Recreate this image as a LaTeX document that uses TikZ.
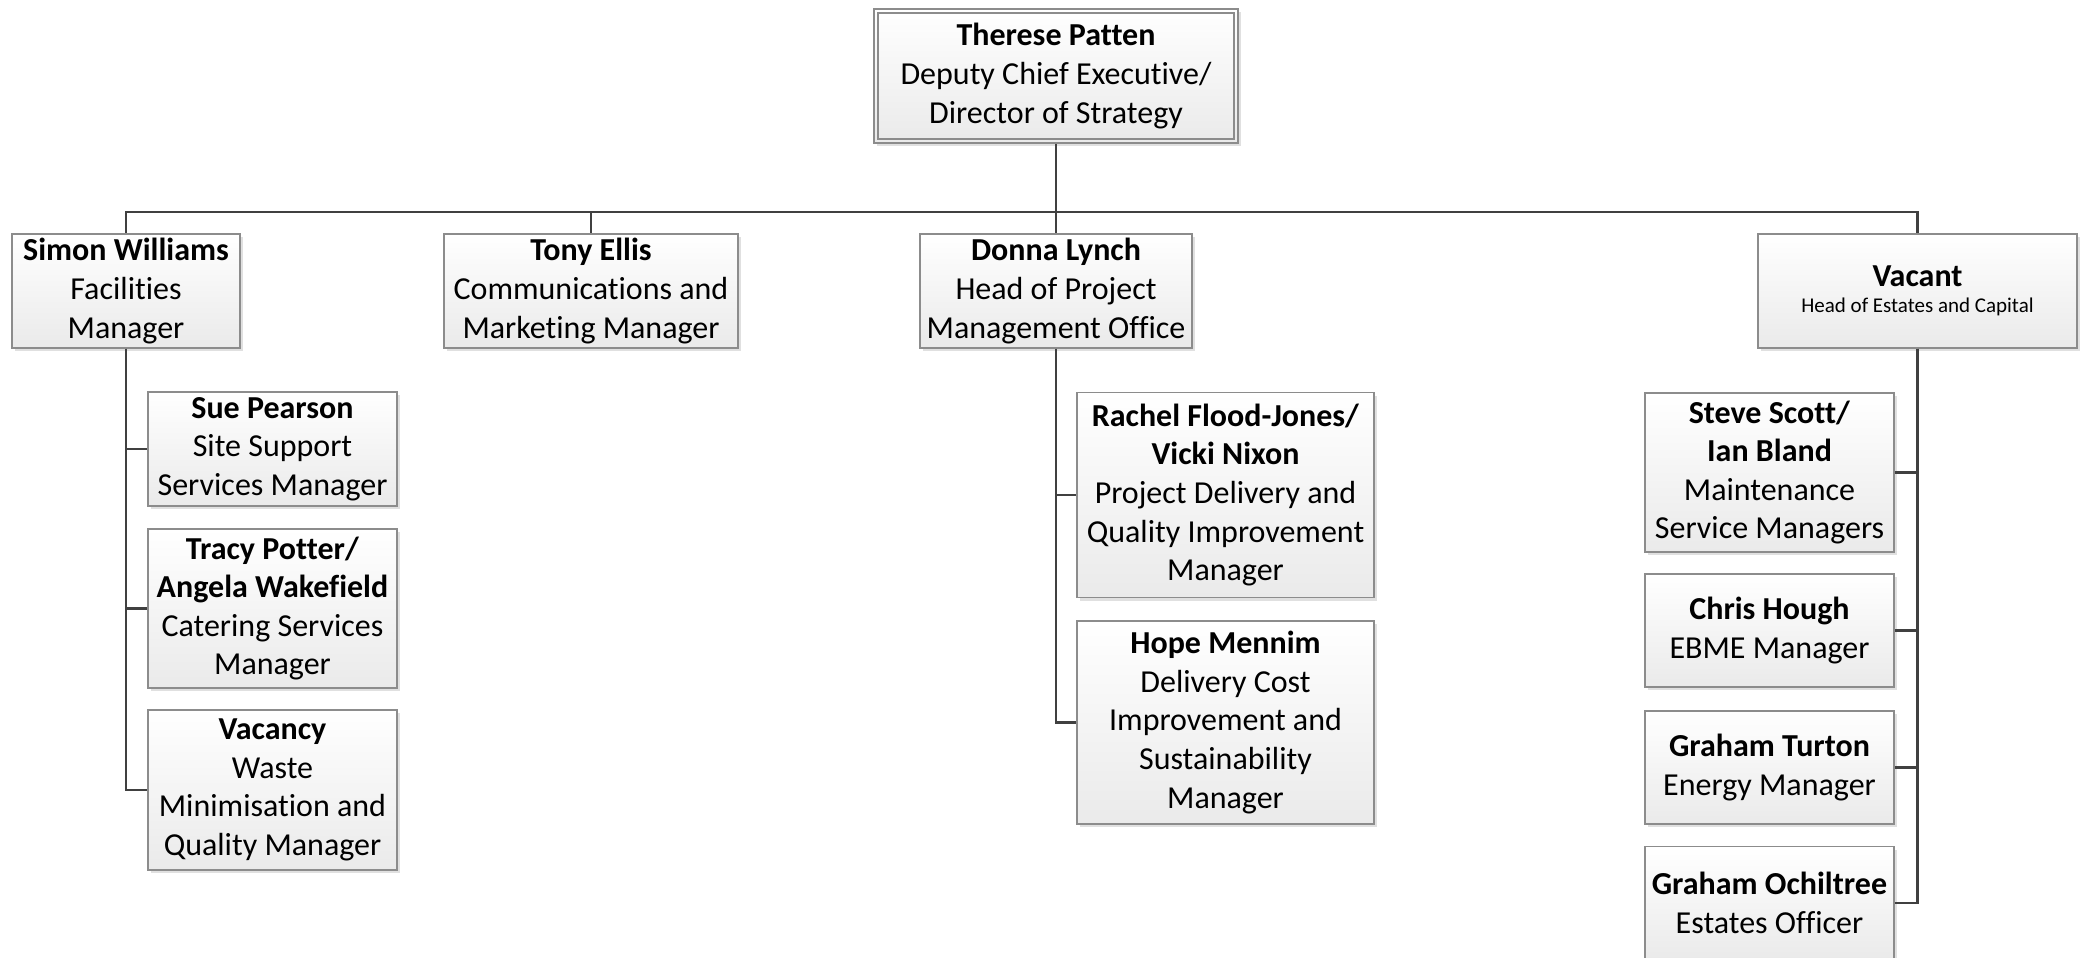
\documentclass[tikz,border=0pt]{standalone}
\usepackage{fontspec}
\setmainfont{Carlito}[Ligatures=NoCommon]
\usepackage{tikz}
\usetikzlibrary{calc,positioning,shadows}

\definecolor{boxline}{HTML}{8C8C8C}
\definecolor{boxbottom}{HTML}{EAEAEA}
\definecolor{linkgray}{HTML}{404040}

\tikzset{
	person/.style={draw=boxline, line width=0.9pt, rectangle, align=center, inner sep=0pt,
		top color=white, bottom color=boxbottom,
		font=\fontsize{16}{19.3}\selectfont,
		drop shadow={shadow xshift=1.5pt, shadow yshift=-1.5pt, fill=black, opacity=0.12}},
	link/.style={draw=linkgray, line width=1.4pt}
}

\begin{document}
\begin{tikzpicture}[x=0.5pt,y=-0.5pt]
		\useasboundingbox (0,0) rectangle (2084,958);

		% top
		\node[person, minimum width=182pt, minimum height=67pt] (top) at (1056,76)
			{\textbf{Therese Patten}\\Deputy Chief Executive/\\Director of Strategy};
		\draw[boxline, line width=0.9pt] ([shift={(2.5pt,-2.5pt)}]top.north west) rectangle ([shift={(-2.5pt,2.5pt)}]top.south east);

		% second row
		\node[person, minimum width=114pt, minimum height=57pt] (simon) at (126,291)
			{\textbf{Simon Williams}\\Facilities\\Manager};
		\node[person, minimum width=147pt, minimum height=57pt] (tony) at (591,291)
			{\textbf{Tony Ellis}\\Communications and\\Marketing Manager};
		\node[person, minimum width=136pt, minimum height=57pt] (donna) at (1056,291)
			{\textbf{Donna Lynch}\\Head of Project\\Management Office};
		\node[person, minimum width=159.5pt, minimum height=57pt] (vacant) at (1917.5,291)
			{\textbf{Vacant}\\[-6.5pt]{\fontsize{10.5}{14}\selectfont Head of Estates and Capital}};

		% facilities
		\node[person, minimum width=124.5pt, minimum height=57pt] (sue) at (272.5,449)
			{\textbf{Sue Pearson}\\Site Support\\Services Manager};
		\node[person, minimum width=124.5pt, minimum height=79.5pt] (tracy) at (272.5,608.5)
			{\textbf{Tracy Potter/}\\\textbf{Angela Wakefield}\\Catering Services\\Manager};
		\node[person, minimum width=124.5pt, minimum height=80pt] (vacancy) at (272.5,790)
			{\textbf{Vacancy}\\Waste\\Minimisation and\\Quality Manager};

		% project office
		\node[person, minimum width=148.5pt, minimum height=102.5pt] (rachel) at (1225.5,495)
			{\textbf{Rachel Flood-Jones/}\\\textbf{Vicki Nixon}\\Project Delivery and\\Quality Improvement\\Manager};
		\node[person, minimum width=148.5pt, minimum height=101.5pt] (hope) at (1225.5,722.5)
			{\textbf{Hope Mennim}\\Delivery Cost\\Improvement and\\Sustainability\\Manager};

		% estates
		\node[person, minimum width=124.5pt, minimum height=79.5pt] (steve) at (1769.5,472.5)
			{\textbf{Steve Scott/}\\\textbf{Ian Bland}\\Maintenance\\Service Managers};
		\node[person, minimum width=124.5pt, minimum height=56.5pt] (chris) at (1769.5,630.5)
			{\textbf{Chris Hough}\\EBME Manager};
		\node[person, minimum width=124.5pt, minimum height=56.5pt] (turton) at (1769.5,767.5)
			{\textbf{Graham Turton}\\Energy Manager};
		\node[person, minimum width=124.5pt, minimum height=56.5pt] (ochil) at (1769.5,903)
			{\textbf{Graham Ochiltree}\\Estates Officer};

		% connectors
		\coordinate (bus) at (1056,212);
		\draw[link] (top.south) -- (bus);
		\foreach \n in {simon,tony,donna,vacant}
			\draw[link] (bus) -| (\n.north);
		\foreach \n in {sue,tracy,vacancy}
			\draw[link] (simon.south) |- (\n.west);
		\foreach \n in {rachel,hope}
			\draw[link] (donna.south) |- (\n.west);
		\foreach \n in {steve,chris,turton,ochil}
			\draw[link] (vacant.south) |- (\n.east);
	\end{tikzpicture}
\end{document}
